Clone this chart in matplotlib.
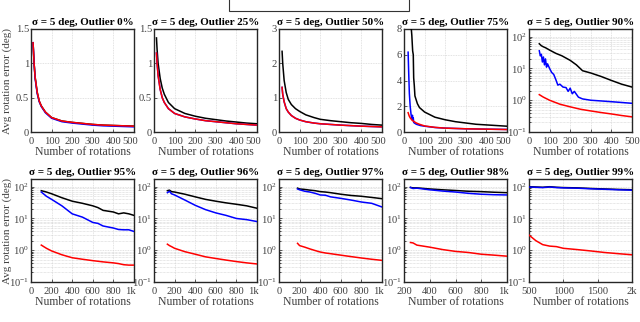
import matplotlib
matplotlib.use("Agg")
import matplotlib.pyplot as plt
import matplotlib.transforms as mtransforms
import numpy as np
from matplotlib.patches import Rectangle
from matplotlib.ticker import LogLocator, NullFormatter

plt.rcParams['font.family'] = ['Liberation Serif', 'DejaVu Serif']
plt.rcParams['mathtext.fontset'] = 'custom'
plt.rcParams['mathtext.rm'] = 'Liberation Serif'
plt.rcParams['mathtext.it'] = 'Liberation Serif:italic'

outliers = ["0%", "25%", "50%", "75%", "90%", "95%", "96%", "97%", "98%", "99%"]

# ---- data: (x, black, blue, red) ----
p0_x = [10, 15, 20, 30, 40, 50, 70, 100, 150, 200, 250, 300, 350, 400, 450, 500]
p0_k = [1.30, 1.00, 0.80, 0.58, 0.45, 0.38, 0.29, 0.21, 0.16, 0.14, 0.125, 0.11, 0.10, 0.095, 0.09, 0.085]
p0_b = [1.30, 1.00, 0.78, 0.56, 0.44, 0.37, 0.28, 0.20, 0.15, 0.13, 0.115, 0.10, 0.09, 0.085, 0.08, 0.075]
p0_r = [1.30, 1.00, 0.80, 0.58, 0.45, 0.38, 0.29, 0.21, 0.16, 0.14, 0.125, 0.11, 0.10, 0.095, 0.09, 0.085]

p1_x = [12, 15, 20, 30, 40, 50, 70, 100, 150, 200, 250, 300, 350, 400, 450, 500]
p1_k = [1.37, 1.20, 1.00, 0.78, 0.64, 0.55, 0.43, 0.34, 0.27, 0.23, 0.20, 0.18, 0.16, 0.145, 0.13, 0.12]
p1_b = [1.15, 1.00, 0.82, 0.62, 0.50, 0.43, 0.34, 0.27, 0.22, 0.19, 0.165, 0.15, 0.135, 0.12, 0.11, 0.10]
p1_r = [1.15, 1.00, 0.82, 0.62, 0.50, 0.43, 0.34, 0.27, 0.22, 0.19, 0.165, 0.15, 0.135, 0.12, 0.11, 0.10]

p2_x = [15, 18, 25, 35, 45, 60, 80, 100, 130, 170, 200, 250, 300, 350, 400, 450, 500]
p2_k = [2.35, 2.00, 1.50, 1.15, 0.95, 0.80, 0.68, 0.60, 0.50, 0.42, 0.37, 0.33, 0.30, 0.27, 0.25, 0.22, 0.20]
p2_b = [1.30, 1.10, 0.88, 0.68, 0.58, 0.48, 0.40, 0.35, 0.30, 0.26, 0.24, 0.22, 0.20, 0.185, 0.17, 0.16, 0.15]
p2_r = [1.30, 1.10, 0.88, 0.68, 0.58, 0.48, 0.40, 0.35, 0.30, 0.26, 0.24, 0.22, 0.20, 0.185, 0.17, 0.16, 0.15]

p3_xk = [33, 38, 42, 45, 47, 50, 53, 57, 65, 75, 100, 150, 200, 250, 300, 350, 400, 450, 500]
p3_k = [8.5, 7.5, 6.3, 6.0, 4.2, 3.6, 2.8, 2.6, 2.2, 1.9, 1.55, 1.15, 0.95, 0.80, 0.70, 0.60, 0.55, 0.50, 0.45]
p3_xb = [20, 23, 26, 30, 34, 38, 41, 43, 45, 47, 50, 60, 80, 100, 150, 200, 300, 400, 500]
p3_b = [6.2, 4.5, 3.0, 2.0, 1.4, 1.0, 1.3, 0.9, 1.1, 0.75, 0.70, 0.60, 0.50, 0.45, 0.35, 0.30, 0.25, 0.22, 0.20]
p3_xr = [20, 25, 30, 40, 50, 60, 75, 100, 150, 200, 300, 400, 500]
p3_r = [1.50, 1.25, 1.10, 0.90, 0.80, 0.70, 0.60, 0.47, 0.36, 0.30, 0.25, 0.22, 0.19]

p4_xk = [50, 60, 70, 80, 100, 130, 160, 200, 230, 260, 300, 350, 400, 450, 500]
p4_k = [60, 52, 48, 45, 38, 30, 25, 18, 13, 8.5, 7.2, 5.6, 4.2, 3.2, 2.6]
p4_xb = [50, 55, 60, 65, 70, 75, 80, 85, 90, 100, 110, 120, 130, 140, 150, 165, 180, 190, 200, 210, 220, 240, 260, 300, 350, 400, 450, 500]
p4_b = [36, 25, 28, 16, 23, 13, 20, 11, 14, 10, 7.5, 6.5, 4.5, 3.0, 3.2, 2.6, 2.5, 1.9, 2.4, 1.6, 1.9, 1.25, 1.1, 1.0, 0.95, 0.9, 0.85, 0.8]
p4_xr = [50, 70, 100, 150, 200, 250, 300, 350, 400, 450, 500]
p4_r = [1.5, 1.25, 1.0, 0.75, 0.62, 0.52, 0.46, 0.41, 0.37, 0.33, 0.30]

p5_x = [100, 150, 200, 300, 400, 500, 600, 650, 700, 800, 850, 900, 950, 1000]
p5_k = [75, 68, 60, 45, 35, 30, 25, 22, 18, 16, 14, 15, 14, 12.5]
p5_b = [68, 50, 40, 25, 14, 11, 7.5, 7.0, 5.8, 5.0, 4.5, 4.4, 4.4, 3.9]
p5_r = [1.45, 1.15, 0.95, 0.72, 0.58, 0.52, 0.47, 0.45, 0.43, 0.40, 0.38, 0.35, 0.34, 0.34]

p6_x = [130, 150, 170, 200, 300, 400, 500, 600, 700, 800, 900, 1000]
p6_k = [75, 78, 70, 68, 58, 48, 40, 35, 31, 28, 25, 21]
p6_b = [65, 72, 60, 55, 38, 26, 19, 15, 12.5, 10, 9.2, 8.0]
p6_r = [1.55, 1.40, 1.30, 1.15, 0.90, 0.75, 0.62, 0.55, 0.49, 0.44, 0.40, 0.37]

p7_x = [180, 200, 250, 300, 350, 400, 450, 500, 600, 700, 800, 900, 1000]
p7_k = [90, 85, 82, 78, 75, 70, 68, 65, 58, 53, 50, 46, 42]
p7_b = [85, 80, 72, 68, 62, 55, 54, 48, 43, 38, 33, 30, 23]
p7_r = [1.65, 1.40, 1.25, 1.10, 0.98, 0.88, 0.82, 0.78, 0.70, 0.63, 0.57, 0.52, 0.48]

p8_x = [250, 270, 300, 400, 500, 600, 700, 800, 900, 1000]
p8_k = [95, 92, 92, 85, 80, 76, 72, 70, 67, 65]
p8_b = [95, 88, 90, 80, 73, 68, 62, 58, 56, 55]
p8_r = [1.75, 1.70, 1.45, 1.25, 1.05, 0.92, 0.85, 0.75, 0.70, 0.65]

p9_x = [500, 600, 700, 800, 900, 1000, 1200, 1400, 1600, 1800, 2000]
p9_k = [100, 98, 96, 100, 96, 94, 92, 88, 85, 82, 80]
p9_b = [98, 96, 94, 98, 94, 92, 90, 86, 83, 80, 78]
p9_r = [3.0, 2.0, 1.5, 1.35, 1.3, 1.15, 1.05, 0.95, 0.85, 0.78, 0.72]

panels = [
    (p0_x, p0_k, p0_x, p0_b, p0_x, p0_r),
    (p1_x, p1_k, p1_x, p1_b, p1_x, p1_r),
    (p2_x, p2_k, p2_x, p2_b, p2_x, p2_r),
    (p3_xk, p3_k, p3_xb, p3_b, p3_xr, p3_r),
    (p4_xk, p4_k, p4_xb, p4_b, p4_xr, p4_r),
    (p5_x, p5_k, p5_x, p5_b, p5_x, p5_r),
    (p6_x, p6_k, p6_x, p6_b, p6_x, p6_r),
    (p7_x, p7_k, p7_x, p7_b, p7_x, p7_r),
    (p8_x, p8_k, p8_x, p8_b, p8_x, p8_r),
    (p9_x, p9_k, p9_x, p9_b, p9_x, p9_r),
]

ylims = [(0, 1.5), (0, 1.5), (0, 3), (0, 8)]
yticks = [[0, 0.5, 1, 1.5], [0, 0.5, 1, 1.5], [0, 1, 2, 3], [0, 2, 4, 6, 8]]
yticklabels = [["0", "0.5", "1", "1.5"], ["0", "0.5", "1", "1.5"], ["0", "1", "2", "3"], ["0", "2", "4", "6", "8"]]

xlims = [(0, 500)] * 5 + [(0, 1000)] * 3 + [(200, 1000), (500, 2000)]
xticks = [[0, 100, 200, 300, 400, 500]] * 5 + [[0, 200, 400, 600, 800, 1000]] * 3 + \
         [[200, 400, 600, 800, 1000], [500, 1000, 1500, 2000]]
xticklabels = [["0", "100", "200", "300", "400", "500"]] * 5 + \
              [["0", "200", "400", "600", "800", "1k"]] * 3 + \
              [["200", "400", "600", "800", "1k"], ["500", "1000", "1500", "2k"]]

W, H = 640, 322
fig = plt.figure(figsize=(6.4, 3.22), dpi=100)
lefts = [31, 154, 279, 404, 529]
tops = [29, 179]
aw, ah = 103, 103
tick_color = '#404040'

for i in range(10):
    r, c = divmod(i, 5)
    ax = fig.add_axes([lefts[c] / W, 1 - (tops[r] + ah) / H, aw / W, ah / H])
    xk, yk, xb, yb, xr, yr = panels[i]
    ax.plot(xk, yk, color='black', lw=1.1, zorder=3)
    ax.plot(xb, yb, color='blue', lw=1.1, zorder=4)
    ax.plot(xr, yr, color='red', lw=1.1, zorder=5)
    ax.set_xlim(*xlims[i])
    ax.set_xticks(xticks[i])
    ax.set_xticklabels(xticklabels[i])
    if i < 4:
        ax.set_ylim(*ylims[i])
        ax.set_yticks(yticks[i])
        ax.set_yticklabels(yticklabels[i])
        ax.grid(True, color='#d9d9d9', lw=0.6, linestyle=(0, (1, 1)))
    else:
        ax.set_yscale('log')
        ax.set_ylim(0.1, 175)
        ax.set_yticks([0.1, 1, 10, 100])
        ax.set_yticklabels([r'$10^{-1}$', r'$10^{0}$', r'$10^{1}$', r'$10^{2}$'])
        ax.yaxis.set_minor_locator(LogLocator(base=10, subs=np.arange(2, 10), numticks=20))
        ax.yaxis.set_minor_formatter(NullFormatter())
        ax.grid(True, which='major', color='#d9d9d9', lw=0.6, linestyle=(0, (1, 1)))
        ax.grid(True, which='minor', axis='y', color='#d0d0d0', lw=0.5, linestyle=(0, (1, 1)))
    ax.set_axisbelow(True)
    ax.tick_params(axis='x', direction='in', labelsize=7.6, colors=tick_color, length=2.5, width=0.6, pad=3.5)
    ax.tick_params(axis='y', direction='in', labelsize=7.6, colors=tick_color, length=2.5, width=0.6, pad=1.5)
    ax.tick_params(which='minor', direction='in', length=1.5, width=0.5)
    for s in ax.spines.values():
        s.set_linewidth(1.0)
        s.set_color('#262626')
    if c < 4:
        last = ax.get_xticklabels()[-1]
        last.set_transform(last.get_transform() + mtransforms.ScaledTranslation(-2.5 / 72, 0, fig.dpi_scale_trans))
    ax.set_xlabel("Number of rotations", fontsize=8.5, color=tick_color, labelpad=0)
    ax.set_title("σ = 5 deg, Outlier " + outliers[i], fontsize=8, fontweight='bold', pad=3)
    if c == 0:
        ax.set_ylabel("Avg rotation error (deg)", fontsize=8, color=tick_color)
        ax.yaxis.set_label_coords(-19 / aw, 0.5)

# top legend box (cropped at the top of the figure)
fig.patches.append(Rectangle((229 / W, 1 - 11 / H), 180 / W, 30 / H, transform=fig.transFigure,
                             facecolor='white', edgecolor='#333333', lw=0.8, clip_on=False))

fig.savefig("out.png", dpi=100)
